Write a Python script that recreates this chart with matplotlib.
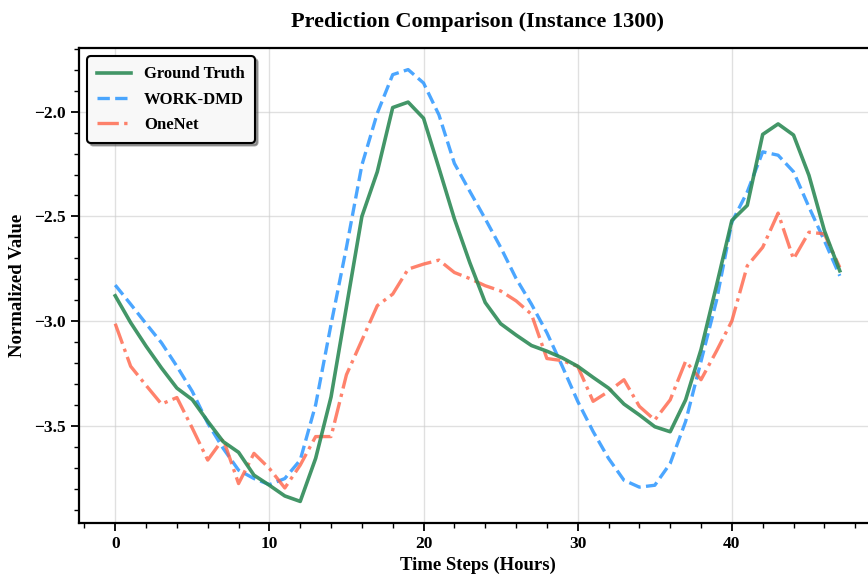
import matplotlib
matplotlib.use("Agg")
import matplotlib.pyplot as plt
from matplotlib.ticker import AutoMinorLocator
import numpy as np

plt.rcParams['font.family'] = ['Liberation Serif', 'DejaVu Serif']
plt.rcParams['font.weight'] = 'bold'

time_steps = list(range(48))

ground_truth = [-2.878, -3.006, -3.118, -3.222, -3.318, -3.373, -3.476, -3.573, -3.624, -3.733,
                -3.781, -3.832, -3.858, -3.653, -3.360, -2.930, -2.500, -2.287, -1.981, -1.955,
                -2.032, -2.270, -2.511, -2.720, -2.910, -3.011, -3.065, -3.115, -3.142, -3.174,
                -3.214, -3.267, -3.318, -3.394, -3.446, -3.502, -3.526, -3.374, -3.134, -2.830,
                -2.519, -2.447, -2.109, -2.059, -2.112, -2.304, -2.567, -2.759]

work_dmd = [-2.827, -2.918, -3.011, -3.102, -3.214, -3.334, -3.485, -3.605, -3.709, -3.749,
            -3.778, -3.749, -3.661, -3.398, -3.014, -2.647, -2.255, -2.008, -1.824, -1.800,
            -1.864, -2.016, -2.247, -2.380, -2.511, -2.647, -2.795, -2.918, -3.054, -3.214,
            -3.381, -3.525, -3.653, -3.757, -3.790, -3.781, -3.677, -3.477, -3.190, -2.902,
            -2.527, -2.383, -2.192, -2.208, -2.287, -2.455, -2.615, -2.783]

onenet = [-3.011, -3.214, -3.305, -3.394, -3.363, -3.509, -3.661, -3.560, -3.773, -3.629,
          -3.701, -3.794, -3.685, -3.549, -3.549, -3.254, -3.090, -2.925, -2.870, -2.751,
          -2.727, -2.708, -2.767, -2.796, -2.830, -2.855, -2.902, -2.966, -3.177, -3.187,
          -3.214, -3.381, -3.334, -3.278, -3.405, -3.470, -3.374, -3.190, -3.278, -3.142,
          -2.998, -2.735, -2.647, -2.484, -2.703, -2.575, -2.583, -2.743]

fig = plt.figure(figsize=(8.68, 5.76), dpi=100)
ax = fig.add_axes([79/868, 1 - 523/576, (876 - 79)/868, (523 - 48)/576])

ax.plot(time_steps, ground_truth, color='#2E8B57', lw=2.6, alpha=0.9, label='Ground Truth', zorder=3)
ax.plot(time_steps, work_dmd, color='#1E90FF', lw=2.4, ls='--', alpha=0.8, label='WORK-DMD', zorder=2)
ax.plot(time_steps, onenet, color='#FF6347', lw=2.4, ls='-.', alpha=0.8, label='OneNet', zorder=2)

ax.set_title('Prediction Comparison (Instance 1300)', fontsize=16, fontweight='bold', pad=15)
ax.set_xlabel('Time Steps (Hours)', fontsize=13.5, fontweight='bold', labelpad=3)
ax.set_ylabel('Normalized Value', fontsize=13.5, fontweight='bold', labelpad=6)

ax.xaxis.set_minor_locator(AutoMinorLocator())
ax.yaxis.set_minor_locator(AutoMinorLocator())
ax.tick_params(which='major', length=6, width=1.3, labelsize=12.5)
ax.tick_params(which='minor', length=3.5, width=1.0)
for lbl in ax.get_xticklabels() + ax.get_yticklabels():
    lbl.set_fontweight('bold')

for s in ax.spines.values():
    s.set_linewidth(1.6)

ax.grid(True, which='major', color='#cccccc', alpha=0.6, lw=1.0)

leg = ax.legend(loc='upper left', fontsize=12, frameon=True, shadow=True, fancybox=True,
                edgecolor='black', framealpha=1.0, borderpad=0.6, handlelength=2.0,
                labelspacing=0.55)
leg.get_frame().set_linewidth(1.5)
leg.get_frame().set_facecolor('#f8f8f8')
for t in leg.get_texts():
    t.set_fontweight('bold')

fig.savefig('out.png', dpi=100)
